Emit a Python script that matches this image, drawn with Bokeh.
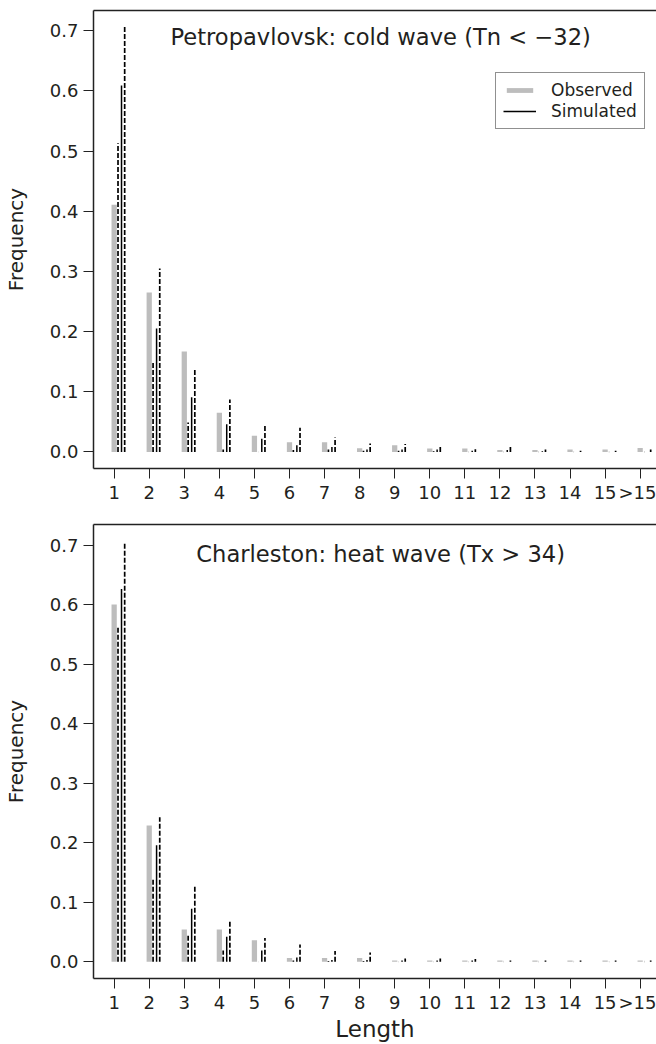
from bokeh.plotting import figure
from bokeh.models import (ColumnDataSource, FixedTicker, PrintfTickFormatter, LinearAxis,
                          Range1d, Label, Legend, LegendItem)
from bokeh.layouts import column
from bokeh.transform import dodge
from bokeh.embed import file_html
from bokeh.resources import INLINE

# ---------------- data ----------------
lengths = list(range(1, 17))
tick_labels = [str(i) for i in range(1, 16)] + [">15"]
freq_ticks = [0.0, 0.1, 0.2, 0.3, 0.4, 0.5, 0.6, 0.7]

# Petropavlovsk: cold wave
petro_obs = [0.411, 0.265, 0.167, 0.065, 0.027, 0.016, 0.016, 0.006, 0.011, 0.0055, 0.0055, 0.003, 0.003, 0.004, 0.004, 0.0066]
petro_low = [0.513, 0.148, 0.049, 0.004, 0.0, 0.003, 0.004, 0.002, 0.002, 0.001, 0.0, 0.0, 0.0, 0.0, 0.0, 0.0]
petro_mid = [0.609, 0.205, 0.091, 0.046, 0.022, 0.011, 0.008, 0.004, 0.004, 0.004, 0.002, 0.003, 0.001, 0.0, 0.0, 0.0]
petro_upp = [0.707, 0.305, 0.139, 0.087, 0.046, 0.040, 0.024, 0.014, 0.013, 0.009, 0.0045, 0.009, 0.004, 0.002, 0.002, 0.004]

# Charleston: heat wave
charl_obs = [0.601, 0.229, 0.054, 0.054, 0.036, 0.006, 0.006, 0.006, 0.002, 0.002, 0.002, 0.002, 0.002, 0.002, 0.002, 0.002]
charl_low = [0.564, 0.139, 0.044, 0.019, 0.0, 0.002, 0.001, 0.001, 0.0, 0.0, 0.0, 0.0, 0.0, 0.0, 0.0, 0.0]
charl_mid = [0.627, 0.196, 0.089, 0.042, 0.019, 0.007, 0.003, 0.003, 0.002, 0.002, 0.002, 0.0, 0.0, 0.0, 0.0, 0.0]
charl_upp = [0.706, 0.243, 0.128, 0.070, 0.040, 0.029, 0.018, 0.0155, 0.0055, 0.0055, 0.0044, 0.002, 0.002, 0.002, 0.002, 0.002]

FONT = "DejaVu Sans"
TXT = "#231f20"
GRAY = "#bdbdbd"


def make_panel(title, title_y, obs, low, mid, upp, height, b_top, b_bottom, y0, y1,
               xlabel=None, legend=False):
    xr = Range1d(0.411, 16.466)
    p = figure(width=656, height=height, output_backend="svg", toolbar_location=None,
               x_range=xr, y_range=Range1d(y0, y1),
               min_border_left=92, min_border_right=0,
               min_border_top=b_top, min_border_bottom=b_bottom)
    p.outline_line_color = None
    p.grid.grid_line_color = None
    p.background_fill_color = "white"
    p.border_fill_color = "white"

    src = ColumnDataSource(dict(x=lengths, obs=obs, low=low, mid=mid, upp=upp))
    bars = p.vbar(x="x", top="obs", bottom=0, width=0.15, source=src,
                  fill_color=GRAY, line_color=None)
    p.segment(x0=dodge("x", 0.11, range=xr), y0=0, x1=dodge("x", 0.11, range=xr), y1="low",
              source=src, line_color="black", line_width=1.7, line_dash="5 2")
    mids = p.segment(x0=dodge("x", 0.21, range=xr), y0=0, x1=dodge("x", 0.21, range=xr), y1="mid",
                     source=src, line_color="black", line_width=1.5)
    p.segment(x0=dodge("x", 0.30, range=xr), y0=0, x1=dodge("x", 0.30, range=xr), y1="upp",
              source=src, line_color="black", line_width=1.7, line_dash="5 2")

    # axes
    for ax in (p.xaxis[0], p.yaxis[0]):
        ax.axis_line_width = 1.5
        ax.axis_line_color = "#222222"
        ax.major_tick_out = 10
        ax.major_tick_in = 0
        ax.minor_tick_line_color = None
        ax.major_tick_line_color = "#222222"
        ax.major_label_text_font = FONT
        ax.major_label_text_font_size = "18px"
        ax.major_label_text_color = TXT
        ax.axis_label_text_font = FONT
        ax.axis_label_text_font_style = "normal"
        ax.axis_label_text_color = TXT
    p.xaxis.ticker = FixedTicker(ticks=lengths)
    p.xaxis.major_label_overrides = {x: lab for x, lab in zip(lengths, tick_labels)}
    p.xaxis.major_label_standoff = 3
    p.yaxis.ticker = FixedTicker(ticks=freq_ticks)
    p.yaxis.formatter = PrintfTickFormatter(format="%.1f")
    p.yaxis.major_label_standoff = 5
    p.yaxis.axis_label = "Frequency"
    p.yaxis.axis_label_text_font_size = "20px"
    p.yaxis.axis_label_standoff = 19
    if xlabel:
        p.xaxis.axis_label = xlabel
        p.xaxis.axis_label_text_font_size = "23px"
        p.xaxis.axis_label_standoff = 0

    top = LinearAxis(ticker=FixedTicker(ticks=[]), major_tick_out=0, major_tick_in=0,
                     minor_tick_out=0, minor_tick_in=0, major_label_standoff=0,
                     axis_line_width=1.5, axis_line_color="#222222")
    p.add_layout(top, "above")

    p.add_layout(Label(x=8.6, y=title_y, text=title, text_align="center",
                       text_baseline="alphabetic", text_font=FONT,
                       text_font_size="22.6px", text_color=TXT))

    if legend:
        lg = Legend(items=[LegendItem(label="Observed", renderers=[bars]),
                           LegendItem(label="Simulated", renderers=[mids])],
                    location=(402, 339), orientation="vertical",
                    padding=7, spacing=1, glyph_width=33, glyph_height=6,
                    label_standoff=15, label_width=84,
                    label_text_font=FONT, label_text_font_size="17px",
                    label_text_color=TXT, border_line_color="#222222",
                    border_line_width=1.2, background_fill_alpha=1.0, margin=0)
        p.add_layout(lg)
    return p


p1 = make_panel("Petropavlovsk: cold wave (Tn < \u221232)", 0.689,
                petro_obs, petro_low, petro_mid, petro_upp,
                height=510, b_top=10, b_bottom=42, y0=-0.0276, y1=0.7337, legend=True)
p2 = make_panel("Charleston: heat wave (Tx > 34)", 0.686,
                charl_obs, charl_low, charl_mid, charl_upp,
                height=534, b_top=14, b_bottom=61, y0=-0.0283, y1=0.7354, xlabel="Length")

layout = column(p1, p2, spacing=0)
open("out.html", "w").write(file_html(layout, INLINE))
